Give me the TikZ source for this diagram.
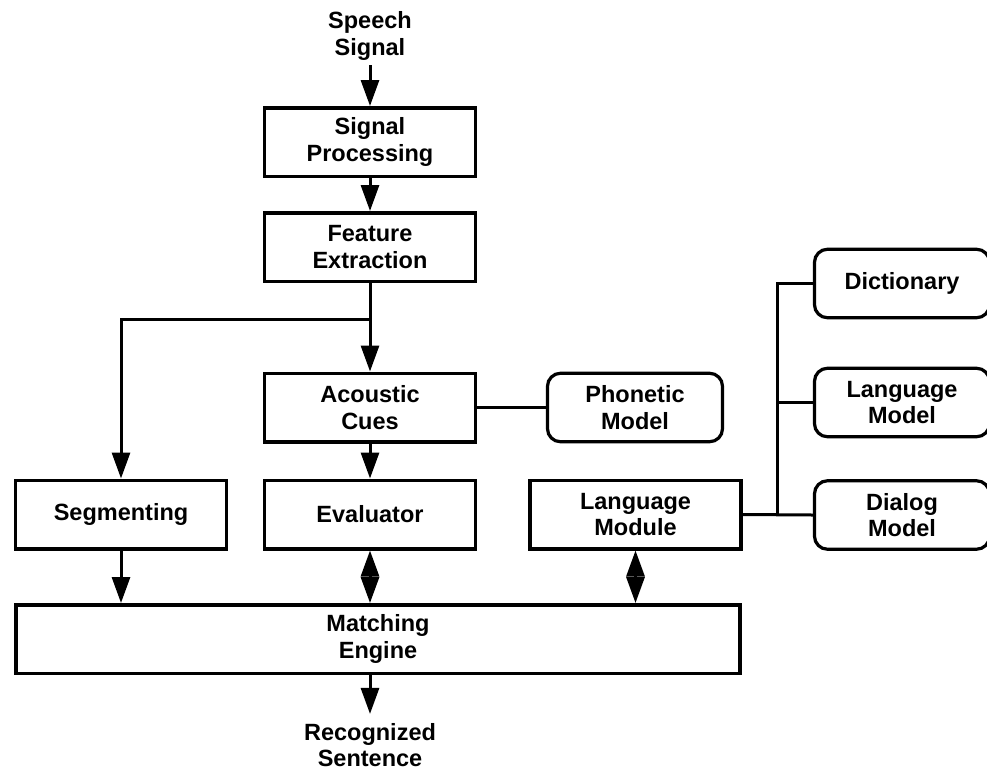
\documentclass[tikz,border=0pt]{standalone}
\usepackage{fontspec}
\setmainfont{Liberation Sans}
\usetikzlibrary{arrows.meta}
\begin{document}
\begin{tikzpicture}[x=1pt,y=-1pt,
  every node/.style={font=\fontsize{23.5}{26.5}\selectfont\bfseries, align=center, inner sep=0pt},
  blk/.style={draw, line width=3.5pt, minimum width=211pt, minimum height=68.5pt},
  rblk/.style={draw, line width=3.2pt, rounded corners=13pt, minimum width=175pt, minimum height=68.5pt},
  link/.style={line width=3pt},
  tipx/.tip={Triangle[length=26pt,width=18pt]},
  arr/.style={link, -tipx},
  darr/.style={link, tipx-tipx}]
\useasboundingbox (0,0) rectangle (987,772);

% input and output labels
\node (speech) at (370,36) {Speech\\Signal};
\node (out) at (370,745) {Recognized\\Sentence};

% processing chain
\node[blk] (sp) at (370,142) {Signal\\Processing};
\node[blk] (fe) at (370,247) {Feature\\Extraction};
\node[blk] (ac) at (370,407.5) {Acoustic\\Cues};
\node[blk] (ev) at (370,514.5) {Evaluator};
\node[blk] (seg) at (121,514.5) {Segmenting};
\node[blk] (lm) at (635.5,514.5) {Language\\Module};
\node[draw, line width=3.5pt, minimum width=724pt, minimum height=68.5pt] (me) at (378,639) {Matching\\Engine};

% knowledge sources
\node[rblk] (pm) at (635,407.5) {Phonetic\\Model};
\node[rblk] (dict) at (902,283.5) {Dictionary};
\node[rblk] (lmod) at (902,402.5) {Language\\Model};
\node[rblk] (dlg) at (902,515) {Dialog\\Model};

% connectors
\draw[arr, shorten <=5pt] (speech) -- (sp);
\draw[arr] (sp) -- (fe);
\draw[arr] (fe) -- (ac);
\coordinate (br) at (370,319);
\draw[arr] (br) -| (seg.north);
\draw[link] (ac) -- (pm);
\draw[arr] (ac) -- (ev);
\draw[arr] (seg) -- (seg.south |- me.north);
\draw[darr] (ev) -- (ev.south |- me.north);
\draw[darr] (lm) -- (lm.south |- me.north);
\draw[arr, shorten >=9pt] (out |- me.south) -- (out);

% bus to the language knowledge sources
\coordinate (bus) at (777,515);
\draw[link] (lm.east) -- (dlg.west);
\draw[link] (dict.west) -| (bus);
\draw[link] (lmod.west) -- (lmod.west -| bus);
\end{tikzpicture}
\end{document}
